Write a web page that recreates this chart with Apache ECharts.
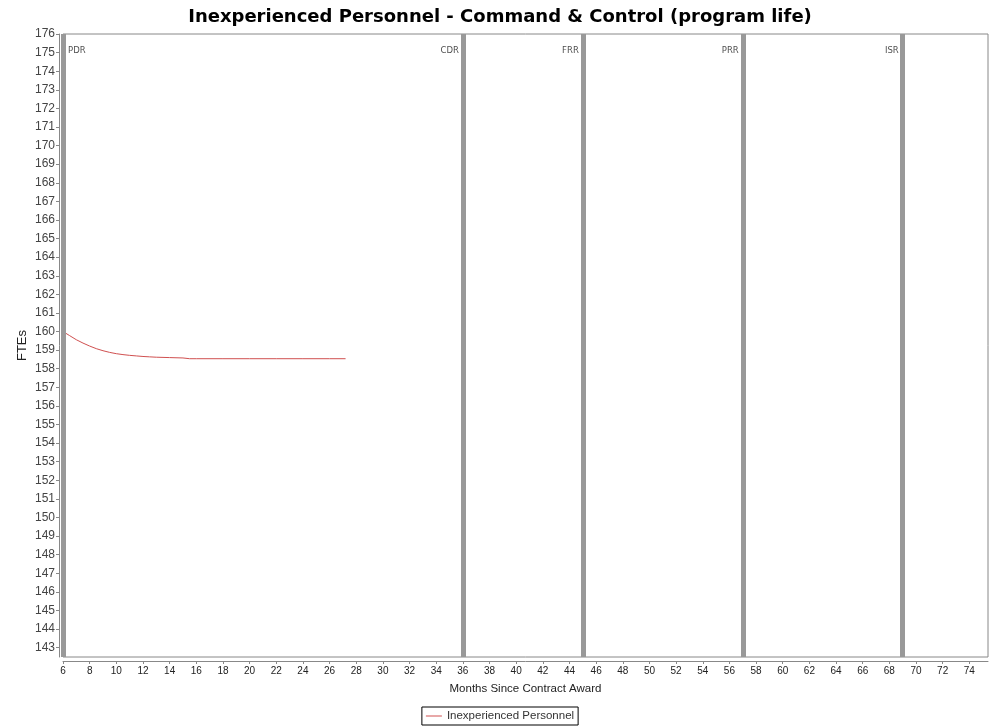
<!DOCTYPE html>
<html><head><meta charset="utf-8">
<script src="https://cdn.jsdelivr.net/npm/echarts@6/dist/echarts.min.js"></script>
<style>html,body{margin:0;padding:0;background:#fff}#c{width:1000px;height:727px}</style>
</head><body><div id="c"></div>
<script>
const months = [6, 6.5, 7, 7.5, 8, 8.5, 9, 9.5, 10, 10.5, 11, 11.5, 12, 12.5, 13, 14, 15, 15.5, 16, 18, 20, 22, 24, 26, 27.2];
const fte = [160.0, 159.78, 159.56, 159.38, 159.22, 159.08, 158.97, 158.88, 158.81, 158.76, 158.72, 158.69, 158.66, 158.64, 158.62, 158.6, 158.58, 158.54, 158.54, 158.54, 158.54, 158.54, 158.54, 158.54, 158.54];
const milestoneNames = ['PDR', 'CDR', 'FRR', 'PRR', 'ISR'];
const milestoneMonths = [6, 36, 45, 57, 69];
const yTicks = []; for (let v = 143; v <= 176; v++) yTicks.push(v);
const xTicks = []; for (let v = 6; v <= 74; v += 2) xTicks.push(v);

const chart = echarts.init(document.getElementById('c'));
const font = 'Liberation Sans, Arial, sans-serif';
chart.setOption({
  animation: false,
  backgroundColor: '#fff',
  title: {
    text: 'Inexperienced Personnel - Command & Control (program life)',
    left: 'center', top: 3,
    textStyle: {fontFamily: 'DejaVu Sans', fontWeight: 'bold', fontSize: 18, color: '#000'}
  },
  grid: {left: 63, right: 12, top: 34, bottom: 70, show: true, borderColor: '#888', borderWidth: 1, backgroundColor: '#fff'},
  legend: {
    data: ['Inexperienced Personnel'],
    bottom: 2, left: 'center',
    borderColor: '#000', borderWidth: 1, borderRadius: 0, padding: [3, 4, 3, 4],
    icon: 'rect', itemWidth: 16, itemHeight: 1, itemGap: 5,
    textStyle: {fontFamily: font, fontSize: 11.5, color: '#333'}
  },
  xAxis: {
    type: 'value', min: 6, max: 75.4, interval: 2, offset: 4,
    name: 'Months Since Contract Award', nameLocation: 'middle', nameGap: 22,
    nameTextStyle: {fontFamily: font, fontSize: 11.5, color: '#222'},
    axisLine: {lineStyle: {color: '#888'}},
    axisTick: {length: 3, lineStyle: {color: '#888'}, customValues: xTicks},
    axisLabel: {fontFamily: font, fontSize: 10, color: '#222', margin: 5, customValues: xTicks},
    splitLine: {show: false}
  },
  yAxis: {
    type: 'value', min: 142.5, max: 176, offset: 4,
    name: 'FTEs', nameLocation: 'middle', nameGap: 30, nameRotate: 90, nameMoveOverlap: false,
    nameTextStyle: {fontFamily: font, fontSize: 13, color: '#222'},
    axisLine: {show: true, lineStyle: {color: '#888'}},
    axisTick: {show: true, length: 3, lineStyle: {color: '#888'}, customValues: yTicks},
    axisLabel: {fontFamily: font, fontSize: 12, color: '#444', margin: 4, customValues: yTicks},
    splitLine: {show: false}
  },
  series: [
    {
      name: 'Inexperienced Personnel', type: 'line',
      data: months.map((m, i) => [m, fte[i]]),
      showSymbol: false, symbol: 'none',
      lineStyle: {color: '#d05050', width: 1},
      itemStyle: {color: '#d05050'},
      markLine: {
        silent: true, symbol: ['none', 'none'],
        label: {show: false},
        lineStyle: {color: '#999', width: 5, type: 'solid'},
        data: milestoneMonths.map(m => ({xAxis: m}))
      },
      z: 3
    },
    {
      name: 'milestones', type: 'scatter', symbolSize: 0,
      data: milestoneMonths.map((m, i) => ({
        value: [m, 175.1, milestoneNames[i]],
        label: {
          show: true, formatter: milestoneNames[i],
          position: i === 0 ? 'right' : 'left',
          distance: i === 0 ? 5 : 4,
          fontFamily: 'DejaVu Sans', fontSize: 8.5, color: '#222'
        }
      })),
      z: 4
    }
  ]
});
</script></body></html>
